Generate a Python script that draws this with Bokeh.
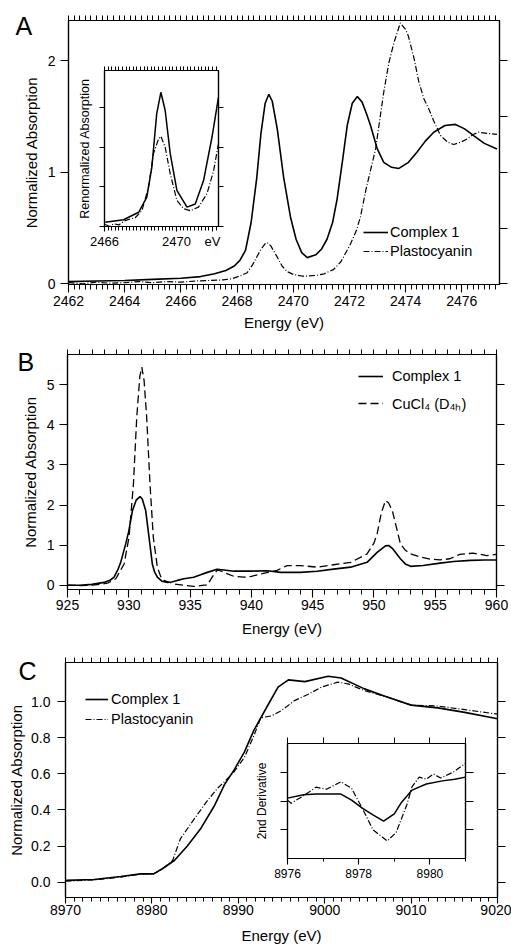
from bokeh.plotting import figure
from bokeh.models import (LinearAxis, FixedTicker, Range1d, Label, Legend, LegendItem,
                          GridBox, PrintfTickFormatter)
from bokeh.layouts import column
from bokeh.embed import file_html
from bokeh.resources import INLINE

FONT = "Liberation Sans"

# ---------------- Panel A (S K-edge) ----------------
a_c1_e = [2462.0, 2463.0, 2464.0, 2465.0, 2466.0, 2466.7, 2467.2, 2467.6, 2467.9, 2468.1,
          2468.3, 2468.5, 2468.7, 2468.85, 2469.0, 2469.13, 2469.25, 2469.43, 2469.66, 2469.9,
          2470.1, 2470.3, 2470.5, 2470.8, 2471.0, 2471.2, 2471.4, 2471.56, 2471.75, 2471.92,
          2472.1, 2472.28, 2472.45, 2472.6, 2472.75, 2472.99, 2473.22, 2473.5, 2473.76, 2474.1,
          2474.4, 2474.7, 2475.0, 2475.4, 2475.77, 2476.1, 2476.42, 2476.8, 2477.25]
a_c1_y = [0.02, 0.025, 0.03, 0.04, 0.05, 0.065, 0.09, 0.12, 0.16, 0.21,
          0.30, 0.55, 0.95, 1.35, 1.62, 1.70, 1.64, 1.39, 0.95, 0.60,
          0.40, 0.28, 0.235, 0.26, 0.31, 0.40, 0.55, 0.76, 1.10, 1.42,
          1.62, 1.68, 1.63, 1.53, 1.42, 1.21, 1.09, 1.045, 1.035, 1.09,
          1.18, 1.28, 1.36, 1.42, 1.43, 1.39, 1.33, 1.26, 1.21]

a_pc_e = [2462.0, 2462.5, 2463.0, 2463.5, 2464.0, 2464.5, 2465.0, 2465.5, 2466.0, 2466.5,
          2467.0, 2467.5, 2467.8, 2468.1, 2468.36, 2468.55, 2468.7, 2468.85, 2469.0, 2469.07,
          2469.2, 2469.43, 2469.6, 2469.78, 2470.0, 2470.3, 2470.5, 2470.8, 2471.1, 2471.44,
          2471.7, 2472.04, 2472.25, 2472.39, 2472.6, 2472.93, 2473.22, 2473.4, 2473.58, 2473.81,
          2474.0, 2474.1, 2474.3, 2474.47, 2474.65, 2474.82, 2475.0, 2475.24, 2475.5, 2475.71,
          2475.95, 2476.19, 2476.4, 2476.6, 2476.9, 2477.25]
a_pc_y = [0.01, 0.0, 0.015, 0.005, 0.01, 0.02, 0.01, 0.02, 0.015, 0.025,
          0.03, 0.035, 0.045, 0.07, 0.10, 0.17, 0.24, 0.31, 0.36, 0.37,
          0.34, 0.24, 0.16, 0.11, 0.085, 0.07, 0.07, 0.075, 0.09, 0.13,
          0.20, 0.36, 0.48, 0.60, 0.86, 1.21, 1.72, 1.98, 2.16, 2.34,
          2.28, 2.22, 2.02, 1.81, 1.66, 1.57, 1.46, 1.33, 1.27, 1.25,
          1.27, 1.30, 1.34, 1.36, 1.35, 1.34]

# inset A (renormalized)
ai_c1_e = [2466.04, 2467.06, 2467.9, 2468.35, 2468.63, 2468.9, 2469.13, 2469.37, 2469.65,
           2470.02, 2470.58, 2471.04, 2471.5, 2471.97, 2472.33]
ai_c1_y = [0.11, 0.17, 0.36, 0.74, 1.5, 2.85, 3.39, 2.93, 1.84,
           0.91, 0.49, 0.57, 1.16, 2.26, 3.27]
ai_pc_e = [2466.04, 2466.3, 2466.5, 2466.8, 2467.1, 2467.43, 2467.7, 2468.08, 2468.44, 2468.72,
           2469.0, 2469.13, 2469.37, 2469.65, 2470.02, 2470.39, 2470.76, 2471.22, 2471.69,
           2472.06, 2472.33]
ai_pc_y = [0.05, 0.0, 0.07, 0.04, 0.14, 0.19, 0.22, 0.40, 0.99, 1.84,
           2.21, 2.28, 2.0, 1.33, 0.66, 0.45, 0.40, 0.49, 0.83,
           1.41, 2.1]

# ---------------- Panel B (Cu L-edge) ----------------
b_c1_e = [925.0, 926.0, 927.0, 927.98, 928.5, 928.8, 929.1, 929.34, 929.75, 930.0,
          930.3, 930.6, 930.92, 931.1, 931.38, 931.65, 931.92, 932.1, 932.33, 932.7,
          933.15, 933.5, 933.96, 934.5, 935.3, 935.86, 936.4, 937.2, 937.44, 938.58,
          939.94, 941.3, 942.4, 944.0, 945.37, 946.7, 948.1, 949.44, 950.26, 950.94,
          951.2, 951.5, 952.16, 952.6, 953.0, 954.0, 955.4, 956.5, 957.9, 959.0, 960.0]
b_c1_y = [0.0, 0.0, 0.02, 0.07, 0.13, 0.2, 0.38, 0.57, 1.03, 1.35,
          1.86, 2.12, 2.21, 2.15, 1.86, 1.2, 0.53, 0.33, 0.2, 0.1,
          0.07, 0.08, 0.12, 0.16, 0.2, 0.26, 0.32, 0.40, 0.39, 0.35,
          0.35, 0.36, 0.32, 0.32, 0.35, 0.40, 0.45, 0.57, 0.82, 0.98,
          0.99, 0.92, 0.66, 0.52, 0.47, 0.49, 0.55, 0.59, 0.62, 0.63, 0.63]

b_cu_e = [925.0, 926.0, 927.0, 928.26, 928.94, 929.62, 930.02, 930.38, 930.65, 930.9,
          931.06, 931.25, 931.46, 931.73, 932.0, 932.33, 932.6, 932.87, 933.69, 934.5,
          935.3, 936.13, 936.4, 936.8, 937.2, 937.4, 937.76, 938.58, 939.39, 940.0,
          940.75, 942.1, 942.92, 944.0, 945.37, 946.7, 948.1, 949.44, 950.0, 950.26,
          950.6, 950.94, 951.2, 951.5, 951.9, 952.16, 952.57, 953.0, 953.8, 954.6,
          955.4, 956.2, 957.0, 958.1, 959.2, 960.0]
b_cu_y = [0.0, -0.01, 0.0, 0.05, 0.16, 0.53, 1.2, 2.53, 4.19, 5.2,
          5.44, 5.1, 4.19, 2.53, 1.2, 0.45, 0.22, 0.12, 0.03, 0.0,
          -0.03, 0.0, 0.0, 0.2, 0.37, 0.37, 0.32, 0.22, 0.2, 0.22,
          0.28, 0.37, 0.49, 0.49, 0.45, 0.51, 0.57, 0.78, 1.05, 1.28,
          1.8, 2.11, 2.05, 1.86, 1.36, 1.03, 0.87, 0.78, 0.70, 0.65,
          0.63, 0.66, 0.77, 0.80, 0.74, 0.77]

# ---------------- Panel C (Cu K-edge) ----------------
c_c1_e = [8970.0, 8973.3, 8976.4, 8978.7, 8980.2, 8981.2, 8982.6, 8984.1, 8985.7, 8987.2,
          8988.4, 8989.5, 8990.7, 8991.8, 8993.4, 8994.6, 8995.8, 8997.7, 9000.4, 9001.9,
          9004.6, 9007.3, 9010.0, 9013.1, 9016.2, 9020.0]
c_c1_y = [0.01, 0.015, 0.031, 0.046, 0.046, 0.074, 0.12, 0.20, 0.30, 0.42,
          0.54, 0.62, 0.72, 0.84, 0.978, 1.08, 1.12, 1.11, 1.14, 1.13,
          1.07, 1.024, 0.98, 0.965, 0.94, 0.905]
c_pc_e = [8970.0, 8973.3, 8976.4, 8978.7, 8980.2, 8981.2, 8982.4, 8983.3, 8984.9, 8986.4,
          8987.6, 8988.4, 8989.5, 8990.7, 8991.8, 8992.6, 8993.8, 8995.0, 8996.5, 8998.1,
          8999.6, 9001.5, 9002.7, 9004.6, 9007.3, 9010.0, 9013.1, 9016.2, 9020.0]
c_pc_y = [0.005, 0.012, 0.028, 0.045, 0.046, 0.072, 0.12, 0.24, 0.35, 0.45,
          0.52, 0.556, 0.61, 0.69, 0.81, 0.91, 0.92, 0.95, 1.005, 1.04,
          1.079, 1.107, 1.098, 1.06, 1.024, 0.98, 0.975, 0.955, 0.93]

# inset C (2nd derivative)
ci_c1_e = [8976.0, 8976.45, 8976.8, 8977.5, 8977.8, 8978.1, 8978.4, 8978.7, 8979.0, 8979.2,
           8979.5, 8979.9, 8980.35, 8980.7, 8981.0]
ci_c1_y = [0.1, 0.22, 0.24, 0.24, 0.03, -0.25, -0.48, -0.7, -0.45, -0.05,
           0.38, 0.59, 0.7, 0.76, 0.83]
ci_pc_e = [8976.0, 8976.1, 8976.45, 8976.8, 8977.1, 8977.5, 8977.8, 8978.1, 8978.4, 8978.8,
           8979.05, 8979.35, 8979.5, 8979.7, 8979.9, 8980.1, 8980.3, 8980.65, 8981.0]
ci_pc_y = [0.03, -0.08, 0.18, 0.48, 0.41, 0.67, 0.44, -0.25, -1.0, -1.39,
           -1.1, -0.14, 0.5, 0.83, 0.76, 0.94, 0.8, 1.0, 1.31]


def steps(a, b, step):
    n = int(round((b - a) / step))
    return [round(a + i * step, 6) for i in range(n + 1)]


def no_frame_align(p):
    if "frame_align" in p.properties():
        p.frame_align = False
        return True
    return False


def base_fig(w, h, xr, yr, ml, mr, mt, mb):
    p = figure(width=w, height=h, x_range=Range1d(*xr), y_range=Range1d(*yr),
               output_backend="svg", toolbar_location=None,
               min_border_left=ml, min_border_right=mr, min_border_top=mt, min_border_bottom=mb,
               x_axis_type=None, y_axis_type=None)
    p.outline_line_color = "black"
    p.outline_line_width = 1.2
    p.background_fill_color = "white"
    p.border_fill_color = "white"
    no_frame_align(p)
    return p


def add_axis(p, side, major, minor=None, fmt="%d", overrides=None,
             major_out=8, minor_out=5, label_size="14px", standoff=3,
             axis_label=None, axis_label_size="15px", axis_label_standoff=5):
    ax = LinearAxis(ticker=FixedTicker(ticks=major, minor_ticks=minor or []))
    ax.major_tick_in = 0
    ax.minor_tick_in = 0
    ax.major_tick_out = major_out
    ax.minor_tick_out = minor_out
    ax.axis_line_color = "black"
    ax.axis_line_width = 1.2
    ax.major_tick_line_color = "black"
    ax.major_tick_line_width = 1.1
    ax.minor_tick_line_color = "black" if minor else None
    ax.minor_tick_line_width = 1
    ax.formatter = PrintfTickFormatter(format=fmt)
    ax.major_label_text_font = FONT
    ax.major_label_text_font_size = label_size
    ax.major_label_text_color = "black"
    ax.major_label_standoff = standoff if major else 0
    if overrides:
        ax.major_label_overrides = overrides
    if axis_label:
        ax.axis_label = axis_label
        ax.axis_label_text_font = FONT
        ax.axis_label_text_font_size = axis_label_size
        ax.axis_label_text_font_style = "normal"
        ax.axis_label_text_color = "black"
        ax.axis_label_standoff = axis_label_standoff
    p.add_layout(ax, side)
    return ax


def tick_only(p, side, positions, out=5, axis_label=None, axis_label_size="12px",
              axis_label_standoff=5):
    return add_axis(p, side, [], positions, major_out=out, minor_out=out,
                    axis_label=axis_label, axis_label_size=axis_label_size,
                    axis_label_standoff=axis_label_standoff)


LET = 60


def letter_fig(text, x, center_from_top):
    f = figure(width=LET, height=LET, x_range=Range1d(0, 1), y_range=Range1d(0, 1),
               output_backend="svg", toolbar_location=None, x_axis_type=None, y_axis_type=None,
               min_border_left=0, min_border_right=0, min_border_top=0, min_border_bottom=0)
    f.outline_line_color = None
    f.background_fill_alpha = 0
    f.border_fill_alpha = 0
    no_frame_align(f)
    f.add_layout(Label(x=x, y=LET - center_from_top, x_units="screen", y_units="screen",
                       text=text, text_font=FONT, text_font_size="25px", text_color="black",
                       text_baseline="middle", text_align="left"))
    f.align = "start"
    return f


def legend(p, items, vx, vy, glyph_w, standoff, spacing):
    lg = Legend(items=[LegendItem(label=l, renderers=[r]) for l, r in items],
                location=(vx, vy), border_line_color=None, background_fill_alpha=0,
                padding=0, margin=0, spacing=spacing, glyph_width=glyph_w, glyph_height=18,
                label_height=18, label_standoff=standoff, label_text_font=FONT,
                label_text_font_size="14.5px", label_text_color="black")
    p.add_layout(lg)


def overlay(p):
    p.border_fill_alpha = 0
    p.align = "start"
    return p


def stack(main, extras, height):
    """Overlay extra figures (same origin) on top of a main figure."""
    if "frame_align" in main.properties():
        return GridBox(children=[(main, 0, 0)] + [(e, 0, 0) for e in extras])
    kids = [main]
    for e in extras:
        e.margin = (-height, 0, height - e.height, 0)
        kids.append(e)
    return column(*kids)


# ======== Panel A ========
pA = base_fig(511, 340, (2462, 2477.34), (-0.006, 2.362), 68, 12, 20, 56)
add_axis(pA, "below", steps(2462, 2476, 2), steps(2462, 2477.2, 0.2), standoff=3,
         axis_label="Energy (eV)", axis_label_standoff=5)
tick_only(pA, "above", steps(2462, 2477.2, 0.2), out=5)
add_axis(pA, "left", [0, 1, 2], standoff=5,
         axis_label="Normalized Absorption", axis_label_standoff=5)
tick_only(pA, "right", [0, 0.5, 1, 1.5, 2], out=8)
rA1 = pA.line(a_c1_e, a_c1_y, line_color="black", line_width=1.6)
rA2 = pA.line(a_pc_e, a_pc_y, line_color="black", line_width=1.2, line_dash="6 2 1 2")
legend(pA, [("Complex 1", rA1), ("Plastocyanin", rA2)], 295, 24, 25, 2, 1)

pAi = overlay(base_fig(232, 266, (2466, 2472.33), (0, 3.94), 104, 14, 70, 40))
add_axis(pAi, "below", [2466, 2470, 2472], steps(2466, 2472.2, 0.2),
         overrides={2472: "eV"}, major_out=5, minor_out=4, label_size="13px", standoff=2)
tick_only(pAi, "above", steps(2466, 2472.2, 0.2), out=4)
tick_only(pAi, "left", [0, 1, 2, 3], out=5, axis_label="Renormalized Absorption",
          axis_label_size="12.5px", axis_label_standoff=8)
tick_only(pAi, "right", [0, 1, 2, 3], out=5)
pAi.line(ai_c1_e, ai_c1_y, line_color="black", line_width=1.5)
pAi.line(ai_pc_e, ai_pc_y, line_color="black", line_width=1.2, line_dash="6 2 1 2")

gridA = stack(pA, [pAi, letter_fig("A", 15, 25)], 340)

# ======== Panel B ========
pB = base_fig(511, 310, (925, 960), (-0.107, 5.753), 67, 15, 14, 61)
add_axis(pB, "below", steps(925, 960, 5), steps(925, 960, 1), standoff=2,
         axis_label="Energy (eV)", axis_label_standoff=7)
tick_only(pB, "above", steps(925, 960, 1), out=5)
add_axis(pB, "left", [0, 1, 2, 3, 4, 5], standoff=5,
         axis_label="Normalized Absorption", axis_label_standoff=5)
tick_only(pB, "right", [0, 1, 2, 3, 4, 5], out=8)
rB1 = pB.line(b_c1_e, b_c1_y, line_color="black", line_width=1.6)
rB2 = pB.line(b_cu_e, b_cu_y, line_color="black", line_width=1.3, line_dash="8 4")
legend(pB, [("Complex 1", rB1), ("CuCl\u2084 (D\u2084\u2095)", rB2)], 291, 176, 25, 9, 8)

gridB = stack(pB, [letter_fig("B", 17, 21)], 310)

# ======== Panel C ========
pC = base_fig(511, 296, (8970, 9020), (-0.085, 1.216), 65, 14, 12, 49)
add_axis(pC, "below", steps(8970, 9020, 10), steps(8970, 9020, 1),
         major_out=6, minor_out=4, standoff=1, axis_label="Energy (eV)", axis_label_standoff=9)
tick_only(pC, "above", steps(8970, 9020, 1), out=5)
add_axis(pC, "left", steps(0, 1.0, 0.2), fmt="%.1f", standoff=7,
         axis_label="Normalized Absorption", axis_label_standoff=3)
tick_only(pC, "right", steps(0, 1.0, 0.2), out=8)
rC1 = pC.line(c_c1_e, c_c1_y, line_color="black", line_width=1.6)
rC2 = pC.line(c_pc_e, c_pc_y, line_color="black", line_width=1.2, line_dash="6 2 1 2")
legend(pC, [("Complex 1", rC1), ("Plastocyanin", rC2)], 20, 169, 23, 3, 2)

pCi = overlay(base_fig(477, 243, (8976, 8981), (-2, 2), 287, 12, 93, 35))
add_axis(pCi, "below", [8976, 8978, 8980], [8977, 8979, 8981],
         major_out=6, minor_out=3, label_size="12px", standoff=4)
add_axis(pCi, "above", [], [8976, 8977, 8978, 8979, 8980, 8981], major_out=6, minor_out=6)
tick_only(pCi, "left", [-1, 0, 1], out=7, axis_label="2nd Derivative",
          axis_label_size="12px", axis_label_standoff=12)
tick_only(pCi, "right", [-1, 0, 1], out=8)
pCi.line(ci_c1_e, ci_c1_y, line_color="black", line_width=1.5)
pCi.line(ci_pc_e, ci_pc_y, line_color="black", line_width=1.2, line_dash="6 2 1 2")

gridC = stack(pC, [pCi, letter_fig("C", 18, 20)], 296)

layout = column(gridA, gridB, gridC)
open("out.html", "w").write(file_html(layout, INLINE))
